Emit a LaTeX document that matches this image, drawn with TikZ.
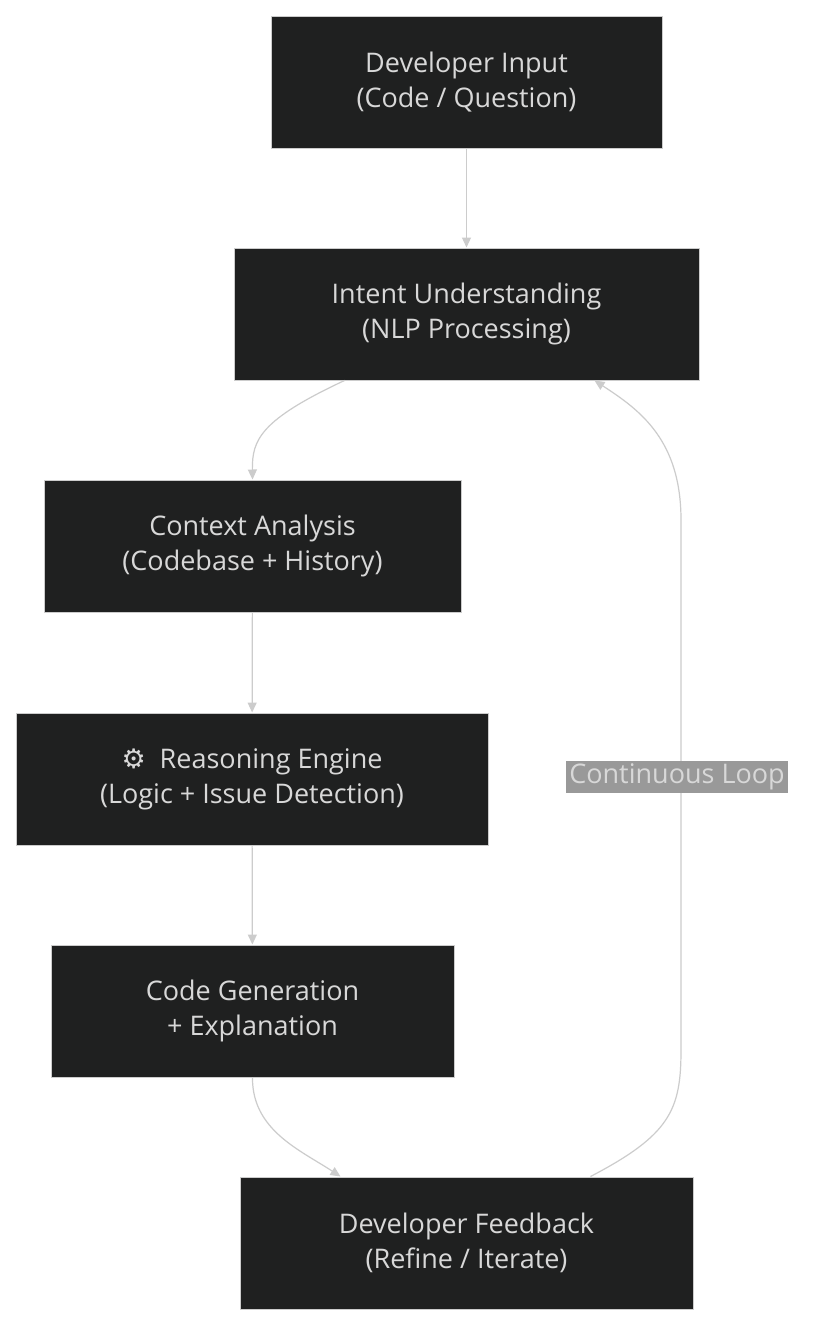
\documentclass[tikz,border=0pt]{standalone}
\usepackage{fontspec}
\setmainfont{Open Sans}
\newfontfamily\symf{DejaVu Sans}
\usetikzlibrary{arrows.meta}
\definecolor{nodebg}{HTML}{1F2020}
\definecolor{edge}{HTML}{CCCCCC}
\definecolor{txt}{HTML}{D8D8D8}
\begin{document}
\begin{tikzpicture}[x=1pt,y=-1pt,
  box/.style={draw=edge,line width=1pt,fill=nodebg,text=txt,font=\fontsize{27}{35}\selectfont,align=center,inner sep=0pt},
  arr/.style={draw=edge,line width=1.2pt,-{Triangle[length=10pt,width=9pt]}}]
\useasboundingbox[fill=white] (0,0) rectangle (816,1326);
\node[box,minimum width=391pt,minimum height=132pt] (a) at (466.5,82) {Developer Input\\(Code / Question)};
\node[box,minimum width=465pt,minimum height=132pt] (b) at (466.5,314) {Intent Understanding\\(NLP Processing)};
\node[box,minimum width=417pt,minimum height=132pt] (c) at (252.5,546) {Context Analysis\\(Codebase + History)};
\node[box,minimum width=472pt,minimum height=132pt] (d) at (252,779) {{\symf ⚙}\ \ Reasoning Engine\\(Logic + Issue Detection)};
\node[box,minimum width=403pt,minimum height=132pt] (e) at (252.5,1011) {Code Generation\\+ Explanation};
\node[box,minimum width=453pt,minimum height=132pt] (f) at (466.5,1243) {Developer Feedback\\(Refine / Iterate)};
\draw[arr] (a) -- (b);
\draw[arr] ([xshift=-122pt]b.south) .. controls (260,420) and (252,440) .. (c.north);
\draw[arr] (c) -- (d);
\draw[arr] (d) -- (e);
\draw[arr] (e.south) .. controls (252,1130) and (300,1150) .. ([xshift=-126pt]f.north);
\draw[arr] ([xshift=124pt]f.north) .. controls (670,1135) and (681,1110) .. (681,1050) -- (681,520) .. controls (681,440) and (640,410) .. ([xshift=128pt]b.south);
\node[fill=black!40,text=txt,font=\fontsize{27}{35}\selectfont,inner sep=3pt] (l) at (677,777) {Continuous Loop};
\end{tikzpicture}
\end{document}
